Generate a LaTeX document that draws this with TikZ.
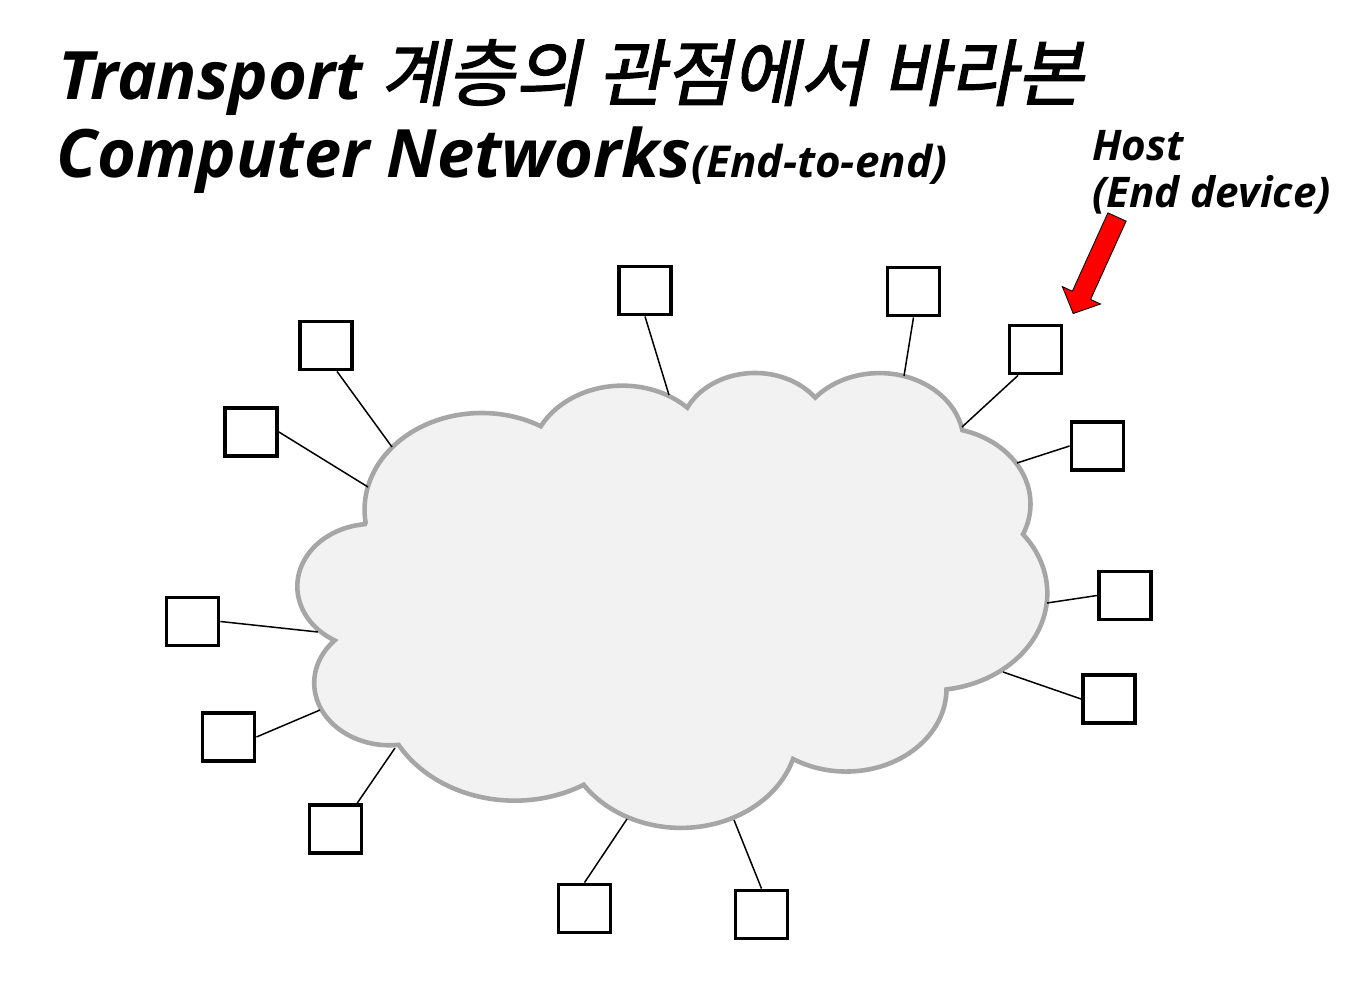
\documentclass[tikz,border=0pt]{standalone}
\usepackage{fontspec}
\setmainfont{Open Sans}
\newfontfamily\hangul{Noto Sans CJK KR}[FakeSlant=0.2, FakeBold=1.6]
\definecolor{cloudfill}{HTML}{F2F2F2}
\definecolor{cloudborder}{HTML}{A6A6A6}
\definecolor{pointerred}{HTML}{FF0000}
\tikzset{
  host/.style={rectangle, draw=black, fill=white, line width=2.2pt,
               minimum width=1.04cm, minimum height=0.96cm, inner sep=0pt},
  link/.style={draw=black, line width=0.85pt},
  cloudbody/.style={draw=cloudborder, fill=cloudfill, line width=2.6pt},
  pointer/.style={fill=pointerred, draw=black, line width=0.5pt},
  title/.style={font=\fontsize{38}{40}\selectfont\bfseries\itshape, inner sep=0pt},
  subtitle/.style={font=\fontsize{25}{27}\selectfont\bfseries\itshape, inner sep=0pt},
  lbl/.style={font=\fontsize{24}{27}\selectfont\bfseries\itshape, align=left, inner sep=0pt}
}

\begin{document}
\begin{tikzpicture}[x=0.02cm, y=-0.02cm]
\useasboundingbox (0,0) rectangle (1360,1000);

%% Title
\node[title, anchor=base west] (title1) at (58,100)
  {Transport {\hangul\mdseries\fontsize{41.5}{44}\selectfont 계층의 관점에서 바라본}};
\node[title, anchor=base west] (title2) at (56,178) {Computer Networks};
\node[subtitle, anchor=base west] (endtoend) at (title2.base east) {(End-to-end)};

%% Network cloud -- 11 elliptic arcs
\begin{scope}[shift={(298,371.5)}, x=0.034676cm, y=-0.021064cm]
\draw[cloudbody] (39.00,143.70)
  arc[start angle=-187.75, end angle=-59.64, x radius=67.53, y radius=91.90]
  arc[start angle=-152.02, end angle=-45.45, x radius=53.33, y radius=72.67]
  arc[start angle=-153.49, end angle=-37.33, x radius=43.65, y radius=59.45]
  arc[start angle=-139.71, end angle=-10.21, x radius=48.57, y radius=65.95]
  arc[start angle=-74.77,  end angle=23.21,  x radius=53.33, y radius=72.73]
  arc[start angle=-37.52,  end angle=81.86,  x radius=67.75, y radius=92.20]
  arc[start angle=0.46,    end angle=121.98, x radius=57.85, y radius=78.67]
  arc[start angle=16.84,   end angle=146.24, x radius=67.52, y radius=92.15]
  arc[start angle=58.98,   end angle=150.19, x radius=77.20, y radius=105.43]
  arc[start angle=83.31,   end angle=223.10, x radius=43.60, y radius=59.18]
  arc[start angle=120.35,  end angle=264.11, x radius=43.45, y radius=59.45]
  -- cycle;
\end{scope}

%% Hosts and their links to the cloud
\foreach \n/\x/\y/\a/\ex/\ey in {
   1/326/345.5/-67/392/447,      2/251/432/east/368/487,
   3/645/290.5/south/669/395,    4/913.5/291.5/south/904/376,
   5/1035.5/349.5/-124/962/427,  6/1097.5/446/west/1017/463,
   7/1125/595.5/west/1047/603,   8/1109/699/west/1003/672,
   9/192.5/621.5/east/318/632,  10/228.5/737/east/320/710,
  11/335.5/829/50/395/748,      12/584.5/908.5/north/627/819,
  13/761.5/914.5/north/734/820} {
  \node[host] (h\n) at (\x,\y) {};
  \coordinate (e\n) at (\ex,\ey);
  \draw[link] (h\n.\a) -- (e\n);
}

%% Host label and red pointer
\node[lbl, anchor=north west] (hostlbl) at (1092,130) {Host\\(End device)};
\begin{scope}[shift={(1117,217)}, rotate=-114.4]
\filldraw[pointer] (0,-10) -- (86,-10) -- (86,-21) -- (106,0) -- (86,21) -- (86,10) -- (0,10) -- cycle;
\end{scope}

\end{tikzpicture}
\end{document}
